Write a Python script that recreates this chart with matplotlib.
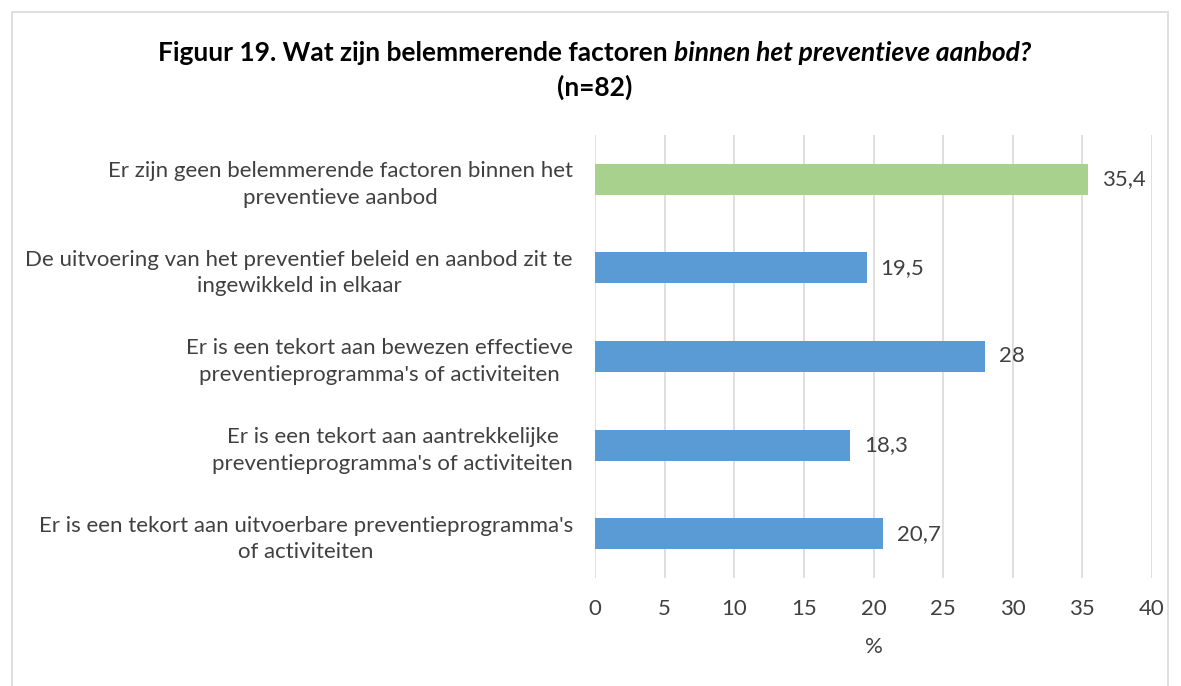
import matplotlib.pyplot as plt
from matplotlib.patches import Rectangle

categories = [
    "Er zijn geen belemmerende factoren binnen het\npreventieve aanbod",
    "De uitvoering van het preventief beleid en aanbod zit te\ningewikkeld in elkaar",
    "Er is een tekort aan bewezen effectieve\npreventieprogramma's of activiteiten",
    "Er is een tekort aan aantrekkelijke\npreventieprogramma's of activiteiten",
    "Er is een tekort aan uitvoerbare preventieprogramma's\nof activiteiten",
]
values = [35.4, 19.5, 28, 18.3, 20.7]
value_labels = ["35,4", "19,5", "28", "18,3", "20,7"]
bar_colors = ["#A9D18E", "#5B9BD5", "#5B9BD5", "#5B9BD5", "#5B9BD5"]
xticks = [0, 5, 10, 15, 20, 25, 30, 35, 40]

TEXT = "#404040"
FS = 16
plt.rcParams["font.family"] = ["Lato", "DejaVu Sans"]

W, H = 1181, 686
fig = plt.figure(figsize=(W / 100, H / 100), dpi=100)
fig.patches.append(Rectangle((12 / W, -0.1), 1156 / W, 1.1 - 12 / H,
                             transform=fig.transFigure, fill=False,
                             edgecolor="#D9D9D9", linewidth=1.2))

ax = fig.add_axes([595 / W, 1 - 578 / H, (1152 - 595) / W, (578 - 135) / H])
pos = list(range(len(categories)))
ax.barh(pos, values, height=0.35, color=bar_colors, zorder=3)
for p, v, lab in zip(pos, values, value_labels):
    ax.text(v + 1.0, p, lab, va="center", ha="left", fontsize=FS, color=TEXT)

ax.set_ylim(len(categories) - 0.5, -0.5)
ax.set_xlim(0, 40)
ax.set_xticks(xticks)
ax.set_xticklabels([str(t) for t in xticks], fontsize=FS, color=TEXT)
ax.set_yticks(pos)
ax.set_yticklabels(categories, fontsize=FS, color=TEXT, multialignment="center",
                   linespacing=1.4)
ax.tick_params(axis="both", length=0)
ax.tick_params(axis="x", pad=15)
ax.tick_params(axis="y", pad=16)
ax.xaxis.grid(True, color="#D9D9D9", linewidth=1.2, zorder=0)
for s in ax.spines.values():
    s.set_visible(False)
ax.set_xlabel("%", fontsize=FS, color=TEXT, labelpad=13)

# title: bold part + bold italic part, centred together
y1 = 1 - 53 / H
t1 = fig.text(0, y1, "Figuur 19. Wat zijn belemmerende factoren ", ha="left",
              va="center", fontsize=19, fontweight="bold", color="black")
t2 = fig.text(0, y1, "binnen het preventieve aanbod?", ha="left",
              va="center", fontsize=19, fontweight="bold", style="italic", color="black")
r = fig.canvas.get_renderer()
w1 = t1.get_window_extent(r).width
w2 = t2.get_window_extent(r).width
start = 595 - (w1 + w2) / 2
t1.set_x(start / W)
t2.set_x((start + w1) / W)
fig.text(595 / W, 1 - 87 / H, "(n=82)", ha="center", va="center",
         fontsize=19, fontweight="bold", color="black")

fig.savefig("out.png", dpi=100)
